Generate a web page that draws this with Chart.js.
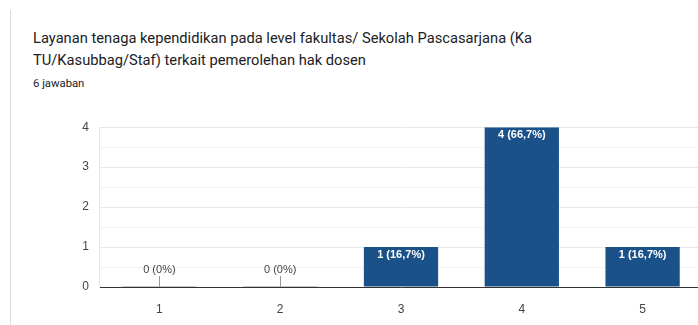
<!DOCTYPE html>
<html>
<head>
<meta charset="utf-8">
<script src="https://cdn.jsdelivr.net/npm/chart.js@4/dist/chart.umd.min.js"></script>
<style>
  html, body { margin: 0; padding: 0; background: #fff; overflow: hidden; }
  body { width: 698px; height: 325px; position: relative; }
  .card { position: absolute; left: 10px; top: 10px; width: 720px; height: 330px; border-left: 1px solid #dadce0; }
  .judul { position: absolute; left: 33px; top: 28px; width: 520px; font: 400 14.7px Roboto, sans-serif; line-height: 21.5px; color: #202124; }
  .jumlah { position: absolute; left: 33px; top: 77px; font: 400 11.3px Roboto, sans-serif; line-height: 14px; color: #202124; }
  .wadah { position: absolute; left: 0; top: 110px; width: 703px; height: 205px; }
</style>
</head>
<body>
<div class="card"></div>
<div class="judul">Layanan tenaga kependidikan pada level fakultas/ Sekolah Pascasarjana (Ka TU/Kasubbag/Staf) terkait pemerolehan hak dosen</div>
<div class="jumlah">6 jawaban</div>
<div class="wadah"><canvas id="grafik"></canvas></div>
<script>
const kategori = ['1', '2', '3', '4', '5'];
const jumlahJawaban = [0, 0, 1, 4, 1];
const persen = ['0%', '0%', '16,7%', '66,7%', '16,7%'];
const labelY = [0, 1, 2, 3, 4];

const warnaBatang = '#1a5189';

// label nilai: putih di dalam batang, abu-abu di atas garis untuk nilai 0
const labelNilai = {
  id: 'labelNilai',
  afterDatasetsDraw(chart) {
    const ctx = chart.ctx;
    const meta = chart.getDatasetMeta(0);
    const yNol = chart.scales.y.getPixelForValue(0);
    ctx.save();
    ctx.textAlign = 'center';
    ctx.textBaseline = 'middle';
    meta.data.forEach((bar, i) => {
      const nilai = jumlahJawaban[i];
      const teks = nilai + ' (' + persen[i] + ')';
      if (nilai > 0) {
        ctx.fillStyle = '#ffffff';
        ctx.font = 'bold 11px "Liberation Sans", Arial, sans-serif';
        ctx.fillText(teks, bar.x, bar.y + 8);
      } else {
        ctx.strokeStyle = '#c8c8c8';
        ctx.lineWidth = 1;
        ctx.beginPath();
        ctx.moveTo(bar.x - bar.width / 2, yNol - 0.5);
        ctx.lineTo(bar.x + bar.width / 2, yNol - 0.5);
        ctx.stroke();
        ctx.strokeStyle = '#999999';
        ctx.beginPath();
        ctx.moveTo(Math.round(bar.x) + 0.5, yNol - 11);
        ctx.lineTo(Math.round(bar.x) + 0.5, yNol);
        ctx.stroke();
        ctx.fillStyle = '#444444';
        ctx.font = '11px "Liberation Sans", Arial, sans-serif';
        ctx.fillText(teks, bar.x, yNol - 17);
      }
    });
    ctx.restore();
  }
};

new Chart(document.getElementById('grafik'), {
  type: 'bar',
  data: {
    labels: kategori,
    datasets: [{
      data: jumlahJawaban,
      backgroundColor: warnaBatang,
      borderWidth: 0,
      barPercentage: 0.615,
      categoryPercentage: 1
    }]
  },
  options: {
    responsive: true,
    maintainAspectRatio: false,
    animation: false,
    layout: { padding: { top: 14, bottom: 0, left: 0, right: 0 } },
    plugins: { legend: { display: false }, tooltip: { enabled: false } },
    scales: {
      x: {
        grid: { display: false },
        border: { color: '#333333', width: 1 },
        ticks: { color: '#444', font: { family: '"Liberation Sans", Arial', size: 12 }, padding: 7 },
        afterFit(scale) { scale.height = 28; }
      },
      y: {
        min: labelY[0],
        max: labelY[labelY.length - 1],
        border: { color: '#e6e6e6' },
        grid: {
          drawTicks: false,
          color: c => (c.tick.value % 1 === 0 ? '#e8e8e8' : '#f3f3f3')
        },
        ticks: {
          stepSize: 0.5,
          padding: 10,
          color: '#444',
          font: { family: '"Liberation Sans", Arial', size: 12 },
          callback: v => (labelY.includes(v) ? v : '')
        },
        afterFit(scale) { scale.width = 99; }
      }
    }
  },
  plugins: [labelNilai]
});
</script>
</body>
</html>
